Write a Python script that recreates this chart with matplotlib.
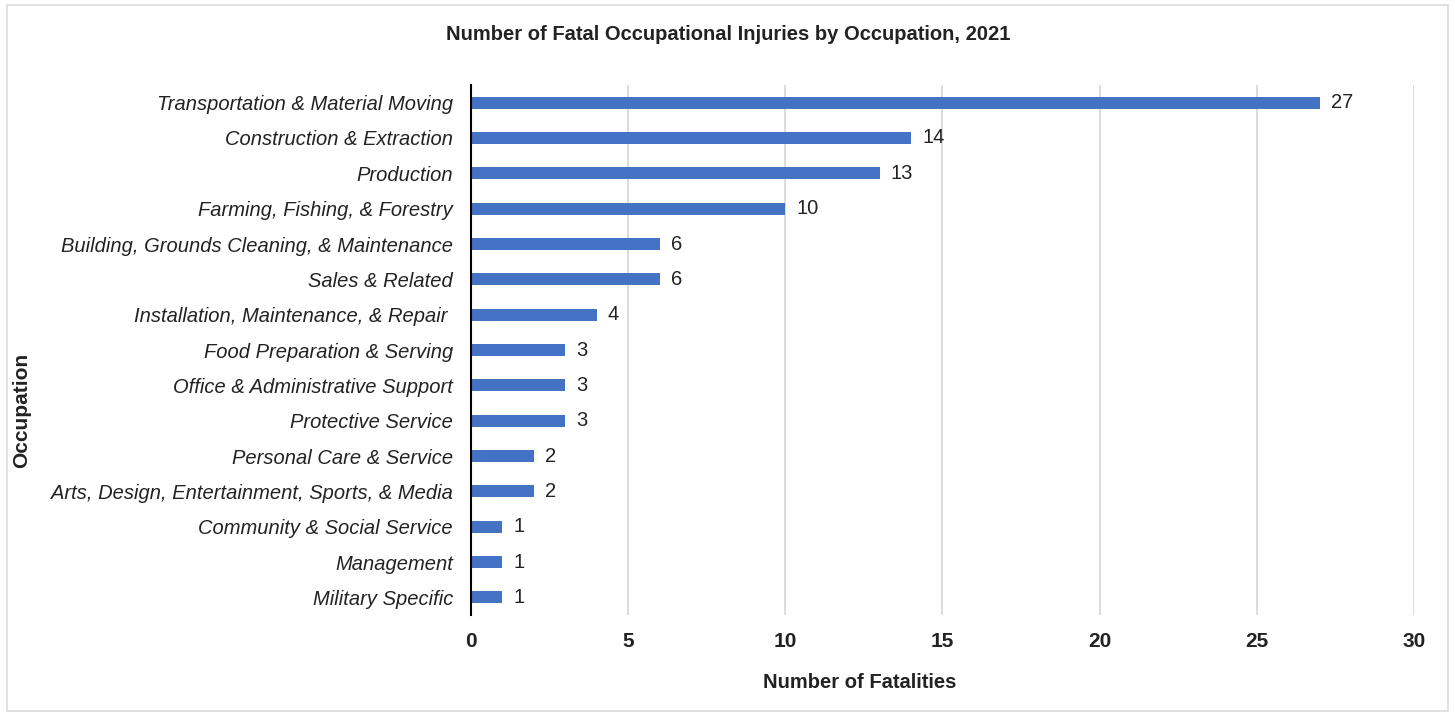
import matplotlib.pyplot as plt
from matplotlib.patches import Rectangle

occupations = [
    "Transportation & Material Moving",
    "Construction & Extraction",
    "Production",
    "Farming, Fishing, & Forestry",
    "Building, Grounds Cleaning, & Maintenance",
    "Sales & Related",
    "Installation, Maintenance, & Repair ",
    "Food Preparation & Serving",
    "Office & Administrative Support",
    "Protective Service",
    "Personal Care & Service",
    "Arts, Design, Entertainment, Sports, & Media",
    "Community & Social Service",
    "Management",
    "Military Specific",
]
fatalities = [27, 14, 13, 10, 6, 6, 4, 3, 3, 3, 2, 2, 1, 1, 1]
x_ticks = [0, 5, 10, 15, 20, 25, 30]

BAR = "#4472c4"
GRID = "#d9d9d9"
TEXT = "#222222"

plt.rcParams["font.family"] = ["Liberation Sans", "DejaVu Sans"]

fig = plt.figure(figsize=(14.55, 7.13), dpi=100)
ax = fig.add_axes([0.3237, 0.1374, 0.6481, 0.7434])

# outer frame around the whole chart
fig.patches.append(
    Rectangle((7 / 1455, 2 / 713), 1441 / 1455, 706 / 713, transform=fig.transFigure,
              fill=False, edgecolor="#dcdcdc", linewidth=1.2)
)

ypos = list(range(len(occupations)))
ax.barh(ypos, fatalities, height=0.34, color=BAR, zorder=3)
for y, v in zip(ypos, fatalities):
    ax.text(v + 0.35, y, str(v), va="center", ha="left", fontsize=14.5, color=TEXT)

ax.set_ylim(len(occupations) - 0.5, -0.5)
ax.set_xlim(0, 30)
ax.set_xticks(x_ticks)
ax.set_xticklabels([str(t) for t in x_ticks], fontsize=15, fontweight="bold", color=TEXT)
ax.set_yticks(ypos)
ax.set_yticklabels(occupations, fontsize=14.5, fontstyle="italic", color=TEXT)
ax.tick_params(axis="both", length=0)
ax.tick_params(axis="x", pad=12)
ax.tick_params(axis="y", pad=13)

ax.grid(axis="x", color=GRID, linewidth=1.3, zorder=0)
for side in ["top", "right", "bottom"]:
    ax.spines[side].set_visible(False)
ax.spines["left"].set_color("black")
ax.spines["left"].set_linewidth(1.5)
ax.spines["left"].set_zorder(4)

fig.text(860 / 1455, 1 - 682 / 713, "Number of Fatalities", ha="center", va="center",
         fontsize=14.5, fontweight="bold", color=TEXT)
fig.text(22 / 1455, 1 - 410 / 713, "Occupation", rotation=90, ha="center", va="center",
         fontsize=15, fontweight="bold", color=TEXT)
fig.text(728 / 1455, 1 - 34 / 713, "Number of Fatal Occupational Injuries by Occupation, 2021",
         ha="center", va="center", fontsize=14.5, fontweight="bold", color=TEXT)

fig.savefig("out.png", dpi=100, facecolor="white")
